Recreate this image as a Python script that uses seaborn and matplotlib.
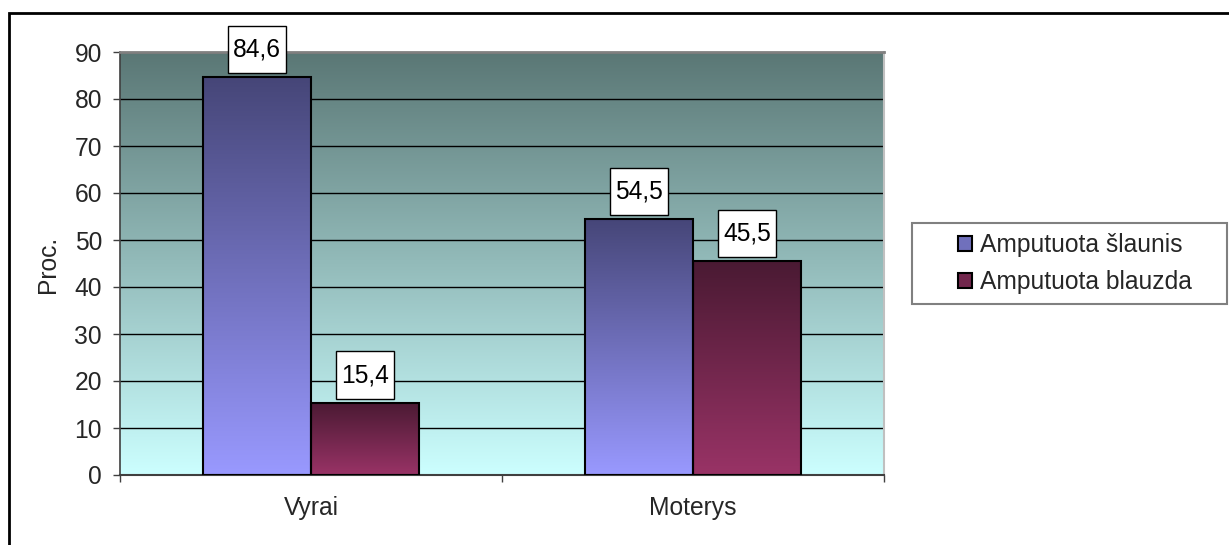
import numpy as np
import pandas as pd
import seaborn as sns
import matplotlib.pyplot as plt
from matplotlib.colors import LinearSegmentedColormap
from matplotlib.patches import Patch, Rectangle
from matplotlib.path import Path

# data
groups = ['Vyrai', 'Moterys']
series = ['Amputuota šlaunis', 'Amputuota blauzda']
slaunis = [84.6, 54.5]
blauzda = [15.4, 45.5]
value_labels = [['84,6', '54,5'], ['15,4', '45,5']]
y_ticks = [0, 10, 20, 30, 40, 50, 60, 70, 80, 90]

# colours: (bottom, top) of each gradient
bar_grad = {'Amputuota šlaunis': ('#9999ff', '#464678'),
            'Amputuota blauzda': ('#993366', '#4a1a33')}
bg_grad = ('#ccffff', '#5a7775')

df = pd.DataFrame({
    'grupe': groups * 2,
    'serija': [series[0]] * 2 + [series[1]] * 2,
    'proc': slaunis + blauzda,
})

sns.set_theme(style='white')
plt.rcParams['font.family'] = ['Liberation Sans', 'DejaVu Sans']
FS = 17.7

W, H = 1229, 545
fig = plt.figure(figsize=(W / 100, H / 100), dpi=100)
ax = fig.add_axes([120 / W, (H - 475) / H, 764 / W, 423 / H])

mid = {k: tuple((np.array(plt.matplotlib.colors.to_rgb(a)) +
                 np.array(plt.matplotlib.colors.to_rgb(b))) / 2)
       for k, (a, b) in bar_grad.items()}

sns.barplot(data=df, x='grupe', y='proc', hue='serija', hue_order=series,
            order=groups, palette=mid, width=0.567, gap=0, ax=ax,
            legend=False, saturation=1)

# background gradient of the plot area
grad = np.linspace(0, 1, 256).reshape(-1, 1)
bg_cmap = LinearSegmentedColormap.from_list('bg', list(bg_grad))
ax.imshow(grad, cmap=bg_cmap, origin='lower', aspect='auto',
          extent=[0, 1, 0, 1], transform=ax.transAxes, zorder=0)


def label_box(x0, y0, width, height, mutation_size):
    # wider vertical padding than horizontal, like the original labels
    px = 0.2 * mutation_size
    bh = 1.92 * mutation_size
    cy = y0 + height / 2
    l, r = x0 - px, x0 + width + px
    b, t = cy - bh / 2, cy + bh / 2
    return Path([(l, b), (r, b), (r, t), (l, t), (l, b)],
                [Path.MOVETO, Path.LINETO, Path.LINETO, Path.LINETO, Path.CLOSEPOLY])


for si, (name, cont) in enumerate(zip(series, ax.containers)):
    cmap = LinearSegmentedColormap.from_list(name, list(bar_grad[name]))
    for gi, bar in enumerate(cont):
        x, y = bar.get_x(), bar.get_y()
        w, h = bar.get_width(), bar.get_height()
        im = ax.imshow(grad, cmap=cmap, origin='lower', aspect='auto',
                       extent=[x, x + w, y, y + h], zorder=2)
        im.set_clip_path(bar)
        bar.set_facecolor('none')
        bar.set_edgecolor('black')
        bar.set_linewidth(1.5)
        bar.set_zorder(3)
        ax.annotate(value_labels[si][gi], (x + w / 2, y + h),
                    xytext=(0, 4 + 23.6), textcoords='offset pixels',
                    ha='center', va='center', fontsize=FS, color='black',
                    zorder=8, annotation_clip=False,
                    bbox=dict(boxstyle=label_box, fc='white', ec='black', lw=1))

ax.set_xlim(-0.5, 1.5)
ax.set_ylim(0, 90)
ax.set_yticks(y_ticks)
ax.set_yticklabels([str(t) for t in y_ticks])
ax.set_xticks([-0.5, 0.5, 1.5], minor=True)
ax.grid(False)
ax.yaxis.grid(True, color='black', lw=1)
ax.set_axisbelow(True)
ax.tick_params(axis='y', which='major', length=5, width=1, color='#404040',
               direction='out', pad=8, labelsize=FS, left=True)
ax.tick_params(axis='x', which='major', length=0, pad=15, labelsize=FS)
ax.tick_params(axis='x', which='minor', length=5, width=1, color='#404040',
               direction='out', bottom=True)
ax.set_xlabel('')
ax.set_ylabel('')
for s, c, lw in [('left', '#404040', 1.2), ('bottom', '#404040', 1.5),
                 ('top', '#808080', 2), ('right', '#c0c0c0', 1.5)]:
    ax.spines[s].set_visible(True)
    ax.spines[s].set_color(c)
    ax.spines[s].set_linewidth(lw)
ax.spines['top'].set_zorder(6)

fig.text(48 / W, 1 - 264 / H, 'Proc.', rotation=90, ha='center', va='center',
         fontsize=FS)

# legend
handles = [Patch(facecolor=mid[s], edgecolor='black', lw=1.5) for s in series]
fig.legend(handles, series, loc='center left',
           bbox_to_anchor=(958 / W, 1 - 263.5 / H), frameon=False,
           borderpad=0, borderaxespad=0, fontsize=FS, handlelength=0.56,
           handleheight=0.56, handletextpad=0.35, labelspacing=0.55)
fig.patches.append(Rectangle((912 / W, (H - 304) / H), 315 / W, 81 / H,
                             transform=fig.transFigure, fill=False,
                             ec='#808080', lw=1.5))

# outer chart border (top and left visible)
fig.patches.append(Rectangle((9 / W, -0.1), 1.2, 1.1 - 13 / H,
                             transform=fig.transFigure, fill=False,
                             ec='black', lw=2))

fig.savefig('out.png', dpi=100)
